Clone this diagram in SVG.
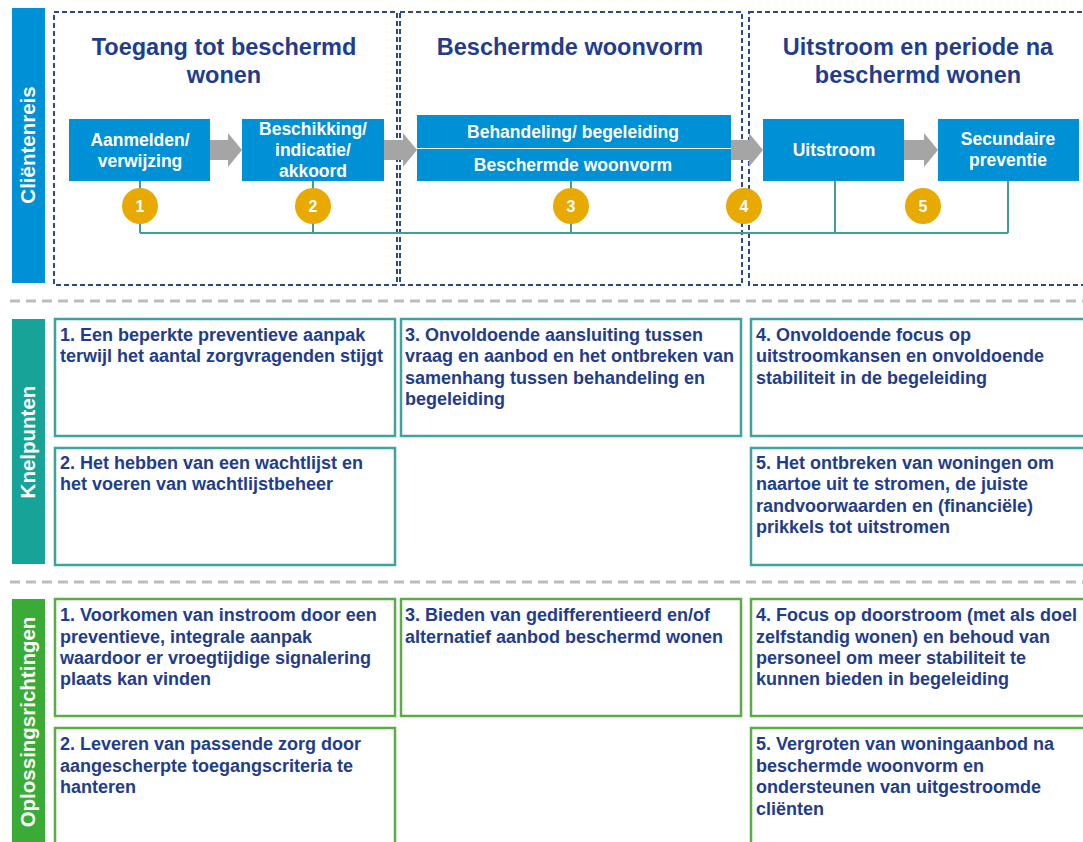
<svg xmlns="http://www.w3.org/2000/svg" width="1083" height="842" viewBox="0 0 1083 842">
<style>
text{font-family:"Liberation Sans",Arial,sans-serif;font-weight:bold}
.side{fill:#fff;font-size:20.5px;text-anchor:middle}
.title{fill:#1f3d8c;font-size:23.5px;text-anchor:middle}
.proc{fill:#0090d5}
.ptxt{fill:#fff;font-size:17.5px;text-anchor:middle}
.frame{fill:none;stroke:#2b4a8b;stroke-width:2;stroke-dasharray:5 3}
.sep{stroke:#bdbdbd;stroke-width:3;stroke-dasharray:10 6}
.arrow{fill:#a5a5a5}
.num{fill:#e8a900}
.ntxt{fill:#fff;font-size:16px;text-anchor:middle}
.conn{fill:none;stroke:#459c97;stroke-width:2}
.kbox{fill:#fff;stroke:#3ea39c;stroke-width:2.5}
.obox{fill:#fff;stroke:#5bac47;stroke-width:2.5}
.btxt{fill:#1f3d8c;font-size:18px}
</style>

<g id="separators">
<line class="sep" x1="10" y1="301" x2="1083" y2="301"/>
<line class="sep" x1="10" y1="582" x2="1083" y2="582"/>
</g>

<g id="side-clientenreis">
<rect x="12" y="8" width="33" height="275" fill="#0090d5"/>
<text class="side" transform="translate(35,145) rotate(-90)">Cliëntenreis</text>
</g>
<g id="side-knelpunten">
<rect x="12" y="319" width="33" height="245" fill="#17a398"/>
<text class="side" transform="translate(35,442) rotate(-90)">Knelpunten</text>
</g>
<g id="side-oplossingen">
<rect x="12" y="599" width="33" height="250" fill="#3aab36"/>
<text class="side" transform="translate(35,722) rotate(-90)">Oplossingsrichtingen</text>
</g>

<g id="phase-toegang">
<rect class="frame" x="54" y="12" width="343" height="273"/>
<text class="title" x="224" y="55">Toegang tot beschermd<tspan x="224" y="83">wonen</tspan></text>
</g>
<g id="phase-woonvorm">
<rect class="frame" x="400" y="12" width="342" height="273"/>
<text class="title" x="570" y="55">Beschermde  woonvorm</text>
</g>
<g id="phase-uitstroom">
<rect class="frame" x="749" y="12" width="340" height="273"/>
<text class="title" x="918" y="55">Uitstroom en periode na<tspan x="918" y="83">beschermd wonen</tspan></text>
</g>

<g id="connectors">
<path class="arrow" d="M210,140 H228 V133 L242,150 L228,167 V160 H210 Z"/>
<path class="arrow" d="M384,140 H403 V133 L417,150 L403,167 V160 H384 Z"/>
<path class="arrow" d="M731,140 H749 V133 L763,150 L749,167 V160 H731 Z"/>
<path class="arrow" d="M904,140 H924 V133 L938,150 L924,167 V160 H904 Z"/>
<path class="conn" d="M140,181 V233 M313,181 V233 M571,181 V233 M835,181 V233 M1008,181 V233 M140,233 H1008"/>
</g>

<g id="proc-aanmelden">
<rect class="proc" x="69" y="119" width="141" height="62"/>
<text class="ptxt" x="140" y="146">Aanmelden/<tspan x="140" y="167">verwijzing</tspan></text>
</g>
<g id="proc-beschikking">
<rect class="proc" x="242" y="119" width="142" height="62"/>
<text class="ptxt" x="313" y="135">Beschikking/<tspan x="313" y="156">indicatie/</tspan><tspan x="313" y="177">akkoord</tspan></text>
</g>
<g id="proc-behandeling">
<rect class="proc" x="417" y="115" width="314" height="33"/>
<text class="ptxt" x="573" y="138">Behandeling/ begeleiding</text>
</g>
<g id="proc-woonvorm">
<rect class="proc" x="417" y="149" width="314" height="32"/>
<text class="ptxt" x="573" y="171">Beschermde woonvorm</text>
</g>
<g id="proc-uitstroom">
<rect class="proc" x="763" y="119" width="141" height="62"/>
<text class="ptxt" x="834" y="156">Uitstroom</text>
</g>
<g id="proc-secundaire">
<rect class="proc" x="938" y="119" width="141" height="62"/>
<text class="ptxt" x="1008" y="145">Secundaire<tspan x="1008" y="166">preventie</tspan></text>
</g>

<g id="num-1"><circle class="num" cx="140" cy="206" r="18"/><text class="ntxt" x="140" y="212">1</text></g>
<g id="num-2"><circle class="num" cx="313" cy="206" r="18"/><text class="ntxt" x="313" y="212">2</text></g>
<g id="num-3"><circle class="num" cx="571" cy="206" r="18"/><text class="ntxt" x="571" y="212">3</text></g>
<g id="num-4"><circle class="num" cx="744" cy="206" r="18"/><text class="ntxt" x="744" y="212">4</text></g>
<g id="num-5"><circle class="num" cx="923" cy="206" r="18"/><text class="ntxt" x="923" y="212">5</text></g>

<g id="knel-1">
<rect class="kbox" x="55" y="319" width="340" height="117"/>
<text class="btxt" x="60" y="341">1. Een beperkte preventieve aanpak<tspan x="60" y="362">terwijl het aantal zorgvragenden stijgt</tspan></text>
</g>
<g id="knel-2">
<rect class="kbox" x="55" y="448" width="340" height="117"/>
<text class="btxt" x="60" y="469">2. Het hebben van een wachtlijst en<tspan x="60" y="490">het voeren van wachtlijstbeheer</tspan></text>
</g>
<g id="knel-3">
<rect class="kbox" x="401" y="319" width="340" height="117"/>
<text class="btxt" x="405" y="341">3. Onvoldoende aansluiting tussen<tspan x="405" y="362">vraag en aanbod en het ontbreken van</tspan><tspan x="405" y="384">samenhang tussen behandeling en</tspan><tspan x="405" y="405">begeleiding</tspan></text>
</g>
<g id="knel-4">
<rect class="kbox" x="751" y="319" width="345" height="117"/>
<text class="btxt" x="756" y="341">4. Onvoldoende focus op<tspan x="756" y="362">uitstroomkansen en onvoldoende</tspan><tspan x="756" y="384">stabiliteit in de begeleiding</tspan></text>
</g>
<g id="knel-5">
<rect class="kbox" x="751" y="448" width="345" height="117"/>
<text class="btxt" x="756" y="469">5. Het ontbreken van woningen om<tspan x="756" y="490">naartoe uit te stromen, de juiste</tspan><tspan x="756" y="512">randvoorwaarden en (financiële)</tspan><tspan x="756" y="533">prikkels tot uitstromen</tspan></text>
</g>

<g id="opl-1">
<rect class="obox" x="55" y="599" width="340" height="117"/>
<text class="btxt" x="60" y="621">1. Voorkomen van instroom door een<tspan x="60" y="643">preventieve, integrale aanpak</tspan><tspan x="60" y="664">waardoor er vroegtijdige signalering</tspan><tspan x="60" y="685">plaats kan vinden</tspan></text>
</g>
<g id="opl-2">
<rect class="obox" x="55" y="728" width="340" height="130"/>
<text class="btxt" x="60" y="750">2. Leveren van passende zorg door<tspan x="60" y="772">aangescherpte toegangscriteria te</tspan><tspan x="60" y="793">hanteren</tspan></text>
</g>
<g id="opl-3">
<rect class="obox" x="401" y="599" width="340" height="117"/>
<text class="btxt" x="405" y="621">3. Bieden van gedifferentieerd en/of<tspan x="405" y="643">alternatief aanbod beschermd wonen</tspan></text>
</g>
<g id="opl-4">
<rect class="obox" x="751" y="599" width="345" height="117"/>
<text class="btxt" x="756" y="621">4. Focus op doorstroom (met als doel<tspan x="756" y="643">zelfstandig wonen) en behoud van</tspan><tspan x="756" y="664">personeel om meer stabiliteit te</tspan><tspan x="756" y="685">kunnen bieden in begeleiding</tspan></text>
</g>
<g id="opl-5">
<rect class="obox" x="751" y="728" width="345" height="130"/>
<text class="btxt" x="756" y="750">5. Vergroten van woningaanbod na<tspan x="756" y="772">beschermde woonvorm en</tspan><tspan x="756" y="793">ondersteunen van uitgestroomde</tspan><tspan x="756" y="815">cliënten</tspan></text>
</g>
</svg>
